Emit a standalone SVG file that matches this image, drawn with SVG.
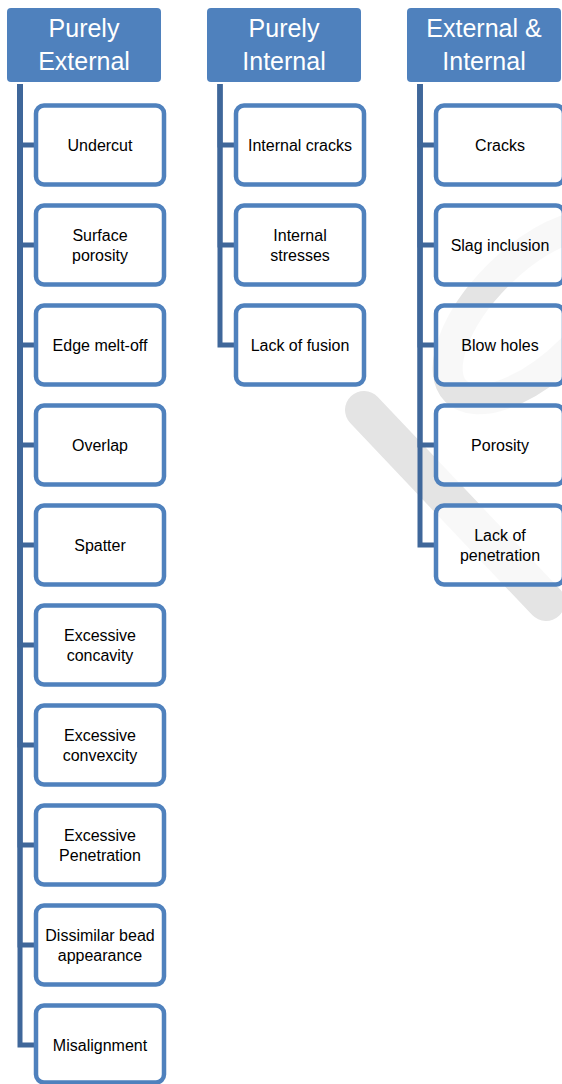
<svg xmlns="http://www.w3.org/2000/svg" width="562" height="1084" viewBox="0 0 562 1084">
<style>
.hdr{fill:#4F81BD}
.ht{fill:#fff;font-family:"Liberation Sans",Arial,sans-serif;font-size:25px;text-anchor:middle}
.box{fill:#fff;fill-opacity:0.75;stroke:#4F81BD;stroke-width:4.5}
.bt{fill:#000;font-family:"Liberation Sans",Arial,sans-serif;font-size:16px;text-anchor:middle}
.con{fill:none;stroke:#3F679A;stroke-width:5;stroke-linejoin:miter}
.wm{fill:none;stroke:#e4e4e4}
</style>
<rect width="562" height="1084" fill="#fff"/>
<g id="watermark">
<ellipse class="wm" cx="535" cy="312" rx="112" ry="52" stroke-width="30" transform="rotate(-45 535 312)"/>
<line class="wm" x1="364" y1="410" x2="546" y2="602" stroke-width="38" stroke-linecap="round"/>
</g>
<g id="connectors">
<path class="con" d="M20,84 V145 H36"/>
<path class="con" d="M20,84 V245 H36"/>
<path class="con" d="M20,84 V345 H36"/>
<path class="con" d="M20,84 V445 H36"/>
<path class="con" d="M20,84 V545 H36"/>
<path class="con" d="M20,84 V645 H36"/>
<path class="con" d="M20,84 V745 H36"/>
<path class="con" d="M20,84 V845 H36"/>
<path class="con" d="M20,84 V945 H36"/>
<path class="con" d="M20,84 V1045 H36"/>
<path class="con" d="M220,84 V145 H236"/>
<path class="con" d="M220,84 V245 H236"/>
<path class="con" d="M220,84 V345 H236"/>
<path class="con" d="M420,84 V145 H436"/>
<path class="con" d="M420,84 V245 H436"/>
<path class="con" d="M420,84 V345 H436"/>
<path class="con" d="M420,84 V445 H436"/>
<path class="con" d="M420,84 V545 H436"/>
</g>
<g id="h1"><rect class="hdr" x="7" y="8" width="154" height="74" rx="4"/><text class="ht" x="84" y="37">Purely</text><text class="ht" x="84" y="70">External</text></g>
<g id="h2"><rect class="hdr" x="207" y="8" width="154" height="74" rx="4"/><text class="ht" x="284" y="37">Purely</text><text class="ht" x="284" y="70">Internal</text></g>
<g id="h3"><rect class="hdr" x="407" y="8" width="154" height="74" rx="4"/><text class="ht" x="484" y="37">External &amp;</text><text class="ht" x="484" y="70">Internal</text></g>

<g id="n1"><rect class="box" x="36" y="105.5" width="128" height="79" rx="8"/><text class="bt" x="100" y="150.5">Undercut</text></g>
<g id="n2"><rect class="box" x="36" y="205.5" width="128" height="79" rx="8"/><text class="bt" x="100" y="240.5">Surface</text><text class="bt" x="100" y="260.5">porosity</text></g>
<g id="n3"><rect class="box" x="36" y="305.5" width="128" height="79" rx="8"/><text class="bt" x="100" y="350.5">Edge melt-off</text></g>
<g id="n4"><rect class="box" x="36" y="405.5" width="128" height="79" rx="8"/><text class="bt" x="100" y="450.5">Overlap</text></g>
<g id="n5"><rect class="box" x="36" y="505.5" width="128" height="79" rx="8"/><text class="bt" x="100" y="550.5">Spatter</text></g>
<g id="n6"><rect class="box" x="36" y="605.5" width="128" height="79" rx="8"/><text class="bt" x="100" y="640.5">Excessive</text><text class="bt" x="100" y="660.5">concavity</text></g>
<g id="n7"><rect class="box" x="36" y="705.5" width="128" height="79" rx="8"/><text class="bt" x="100" y="740.5">Excessive</text><text class="bt" x="100" y="760.5">convexcity</text></g>
<g id="n8"><rect class="box" x="36" y="805.5" width="128" height="79" rx="8"/><text class="bt" x="100" y="840.5">Excessive</text><text class="bt" x="100" y="860.5">Penetration</text></g>
<g id="n9"><rect class="box" x="36" y="905.5" width="128" height="79" rx="8"/><text class="bt" x="100" y="940.5">Dissimilar bead</text><text class="bt" x="100" y="960.5">appearance</text></g>
<g id="n10"><rect class="box" x="36" y="1005.5" width="128" height="77" rx="8"/><text class="bt" x="100" y="1050.5">Misalignment</text></g>

<g id="m1"><rect class="box" x="236" y="105.5" width="128" height="79" rx="8"/><text class="bt" x="300" y="150.5">Internal cracks</text></g>
<g id="m2"><rect class="box" x="236" y="205.5" width="128" height="79" rx="8"/><text class="bt" x="300" y="240.5">Internal</text><text class="bt" x="300" y="260.5">stresses</text></g>
<g id="m3"><rect class="box" x="236" y="305.5" width="128" height="79" rx="8"/><text class="bt" x="300" y="350.5">Lack of fusion</text></g>

<g id="r1"><rect class="box" x="436" y="105.5" width="128" height="79" rx="8"/><text class="bt" x="500" y="150.5">Cracks</text></g>
<g id="r2"><rect class="box" x="436" y="205.5" width="128" height="79" rx="8"/><text class="bt" x="500" y="250.5">Slag inclusion</text></g>
<g id="r3"><rect class="box" x="436" y="305.5" width="128" height="79" rx="8"/><text class="bt" x="500" y="350.5">Blow holes</text></g>
<g id="r4"><rect class="box" x="436" y="405.5" width="128" height="79" rx="8"/><text class="bt" x="500" y="450.5">Porosity</text></g>
<g id="r5"><rect class="box" x="436" y="505.5" width="128" height="79" rx="8"/><text class="bt" x="500" y="540.5">Lack of</text><text class="bt" x="500" y="560.5">penetration</text></g>
</svg>
